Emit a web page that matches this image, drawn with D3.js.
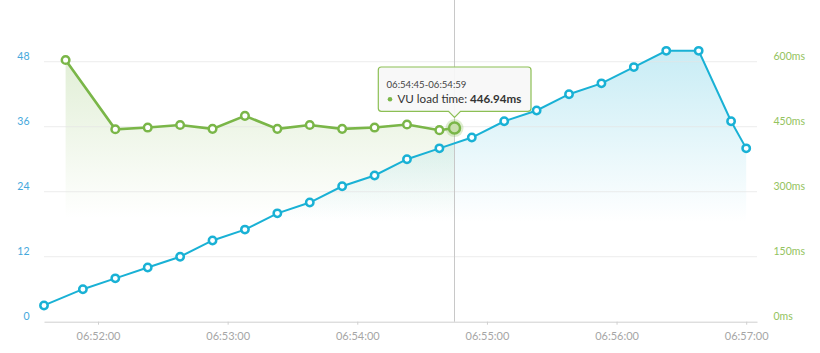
<!DOCTYPE html>
<html>
<head>
<meta charset="utf-8">
<script src="https://cdn.jsdelivr.net/npm/d3@7"></script>
<style>
  body { margin: 0; background: #fff; }
  svg { display: block; font-family: Lato, "Open Sans", sans-serif; }
</style>
</head>
<body>
<div id="chart"></div>
<script>
// virtual users (left axis)
var vuTimes = ["06:51:35", "06:51:53", "06:52:08", "06:52:23", "06:52:38", "06:52:53",
  "06:53:08", "06:53:23", "06:53:38", "06:53:53", "06:54:08", "06:54:23", "06:54:38",
  "06:54:53", "06:55:08", "06:55:23", "06:55:38", "06:55:53", "06:56:08", "06:56:23",
  "06:56:38", "06:56:53", "06:57:00"];
var vuCounts = [3, 6, 8, 10, 12, 15, 17, 20, 22, 25, 27, 30, 32, 34, 37, 39, 42, 44, 47, 50, 50, 37, 32];

// VU load time in ms (right axis)
var loadTimes = ["06:51:45", "06:52:08", "06:52:23", "06:52:38", "06:52:53", "06:53:08",
  "06:53:23", "06:53:38", "06:53:53", "06:54:08", "06:54:23", "06:54:38", "06:54:45"];
var loadMs = [604, 444, 448, 454, 445, 475, 445, 454, 445, 448, 455, 442, 446.94];

var vuTicks = [0, 12, 24, 36, 48];
var msTicks = [0, 150, 300, 450, 600];
var timeTicks = ["06:52:00", "06:53:00", "06:54:00", "06:55:00", "06:56:00", "06:57:00"];
var timeDomain = ["06:51:35", "06:57:05"];

var width = 820, height = 353;
var plot = {left: 44, right: 757, top: 61.7, bottom: 321.7};

var parse = d3.timeParse("%H:%M:%S");
var fmt = d3.timeFormat("%H:%M:%S");

var blueData = vuTimes.map(function(t, i) { return {date: parse(t), value: vuCounts[i]}; });
var greenData = loadTimes.map(function(t, i) { return {date: parse(t), value: loadMs[i]}; });

var blue = "#19b1d5", green = "#7ab648";

var svg = d3.select("#chart")
  .append("svg")
    .attr("width", width)
    .attr("height", height);

var x = d3.scaleTime()
  .domain(timeDomain.map(parse))
  .range([plot.left, plot.right]);

var yVu = d3.scaleLinear()
  .domain([0, 48])
  .range([plot.bottom, plot.top]);

var yMs = d3.scaleLinear()
  .domain([0, 600])
  .range([plot.bottom, plot.top]);

// gradients for the area fills
var defs = svg.append("defs");
function gradient(id, color, top, bottom, o) {
  var g = defs.append("linearGradient")
    .attr("id", id)
    .attr("gradientUnits", "userSpaceOnUse")
    .attr("x1", 0).attr("x2", 0)
    .attr("y1", top).attr("y2", bottom);
  g.append("stop").attr("offset", 0).attr("stop-color", color).attr("stop-opacity", o);
  g.append("stop").attr("offset", 1).attr("stop-color", color).attr("stop-opacity", 0);
}
gradient("gGreen", green, 60, 218, 0.22);
gradient("gBlue", blue, 50, 222, 0.24);

// areas
svg.append("path")
  .datum(greenData)
  .attr("fill", "url(#gGreen)")
  .attr("d", d3.area()
    .x(function(d) { return x(d.date); })
    .y0(plot.bottom)
    .y1(function(d) { return yMs(d.value); }));

svg.append("path")
  .datum(blueData)
  .attr("fill", "url(#gBlue)")
  .attr("d", d3.area()
    .x(function(d) { return x(d.date); })
    .y0(plot.bottom)
    .y1(function(d) { return yVu(d.value); }));

// gridlines
svg.append("g")
  .selectAll("line")
  .data(vuTicks.slice(1))
  .enter().append("line")
    .attr("x1", plot.left)
    .attr("x2", plot.right)
    .attr("y1", function(d) { return yVu(d); })
    .attr("y2", function(d) { return yVu(d); })
    .attr("stroke", "#e6e6e6")
    .attr("stroke-opacity", 0.7);

// x axis
var xAxis = svg.append("g")
  .attr("transform", "translate(0," + plot.bottom + ")")
  .call(d3.axisBottom(x)
    .tickValues(timeTicks.map(parse))
    .tickFormat(fmt)
    .tickSizeInner(3)
    .tickSizeOuter(0)
    .tickPadding(8));
xAxis.select(".domain").attr("stroke", "#cfcfcf");
xAxis.selectAll(".tick line").attr("stroke", "#cfcfcf");
xAxis.selectAll("text")
  .attr("fill", "#a6a6a6")
  .attr("font-size", "11px")
  .attr("font-family", "Lato, sans-serif");

// left axis (VUs)
var left = svg.append("g")
  .attr("transform", "translate(29.5,0)")
  .call(d3.axisLeft(yVu).tickValues(vuTicks).tickSize(0).tickPadding(0));
left.select(".domain").remove();
left.selectAll("text")
  .attr("dy", "-0.25em")
  .attr("fill", "#45a8dc")
  .attr("font-size", "10.5px")
  .attr("font-family", "Lato, sans-serif");

// right axis (ms)
var right = svg.append("g")
  .attr("transform", "translate(773.5,0)")
  .call(d3.axisRight(yMs).tickValues(msTicks).tickSize(0).tickPadding(0)
    .tickFormat(function(d) { return d + "ms"; }));
right.select(".domain").remove();
right.selectAll("text")
  .attr("dy", "-0.25em")
  .attr("fill", "#93c35e")
  .attr("font-size", "10.5px")
  .attr("font-family", "Lato, sans-serif");

// hover line
var hover = greenData[greenData.length - 1];
svg.append("line")
  .attr("x1", x(hover.date))
  .attr("x2", x(hover.date))
  .attr("y1", 0)
  .attr("y2", plot.bottom)
  .attr("stroke", "#c8c8c8")
  .attr("stroke-width", 1);

// lines
svg.append("path")
  .datum(greenData)
  .attr("fill", "none")
  .attr("stroke", green)
  .attr("stroke-width", 2.6)
  .attr("d", d3.line()
    .x(function(d) { return x(d.date); })
    .y(function(d) { return yMs(d.value); }));

svg.append("path")
  .datum(blueData)
  .attr("fill", "none")
  .attr("stroke", blue)
  .attr("stroke-width", 2)
  .attr("d", d3.line()
    .x(function(d) { return x(d.date); })
    .y(function(d) { return yVu(d.value); }));

// markers
svg.append("g")
  .selectAll("circle")
  .data(greenData.slice(0, -1))
  .enter().append("circle")
    .attr("cx", function(d) { return x(d.date); })
    .attr("cy", function(d) { return yMs(d.value); })
    .attr("r", 3.8)
    .attr("fill", "#fff")
    .attr("stroke", green)
    .attr("stroke-width", 2.5);

svg.append("g")
  .selectAll("circle")
  .data(blueData)
  .enter().append("circle")
    .attr("cx", function(d) { return x(d.date); })
    .attr("cy", function(d) { return yVu(d.value); })
    .attr("r", 3.7)
    .attr("fill", "#fff")
    .attr("stroke", blue)
    .attr("stroke-width", 2.5);

// highlighted point
svg.append("circle")
  .attr("cx", x(hover.date))
  .attr("cy", yMs(hover.value))
  .attr("r", 9)
  .attr("fill", green)
  .attr("fill-opacity", 0.25);
svg.append("circle")
  .attr("cx", x(hover.date))
  .attr("cy", yMs(hover.value))
  .attr("r", 5.5)
  .attr("fill", "#c9dfae")
  .attr("stroke", green)
  .attr("stroke-width", 2.5);

// tooltip
var tx = x(hover.date), tipBottom = 111.3;
var box = {x0: 378.3, x1: 531, y0: 67};
var tip = svg.append("g");
tip.append("path")
  .attr("d", "M" + (box.x0 + 3) + "," + box.y0 +
    "H" + (box.x1 - 3) + "Q" + box.x1 + "," + box.y0 + " " + box.x1 + "," + (box.y0 + 3) +
    "V" + (tipBottom - 3) + "Q" + box.x1 + "," + tipBottom + " " + (box.x1 - 3) + "," + tipBottom +
    "H" + (tx + 6) + "L" + tx + "," + (tipBottom + 6) + "L" + (tx - 6) + "," + tipBottom +
    "H" + (box.x0 + 3) + "Q" + box.x0 + "," + tipBottom + " " + box.x0 + "," + (tipBottom - 3) +
    "V" + (box.y0 + 3) + "Q" + box.x0 + "," + box.y0 + " " + (box.x0 + 3) + "," + box.y0 + "Z")
  .attr("fill", "#f7f7f7")
  .attr("fill-opacity", 0.92)
  .attr("stroke", "#8cbf54")
  .attr("stroke-width", 1.2);

var end = new Date(hover.date.getTime() + 14000);
tip.append("text")
  .attr("x", 386.5)
  .attr("y", 87.8)
  .attr("font-size", "9.6px")
  .attr("fill", "#444")
  .text(fmt(hover.date) + "-" + fmt(end));

tip.append("circle")
  .attr("cx", 390)
  .attr("cy", 99.3)
  .attr("r", 2.3)
  .attr("fill", green);

var t2 = tip.append("text")
  .attr("x", 397.5)
  .attr("y", 102.8)
  .attr("font-size", "11.6px")
  .attr("fill", "#333");
t2.append("tspan").text("VU load time: ");
t2.append("tspan").attr("font-weight", "bold").text(hover.value + "ms");
</script>
</body>
</html>
